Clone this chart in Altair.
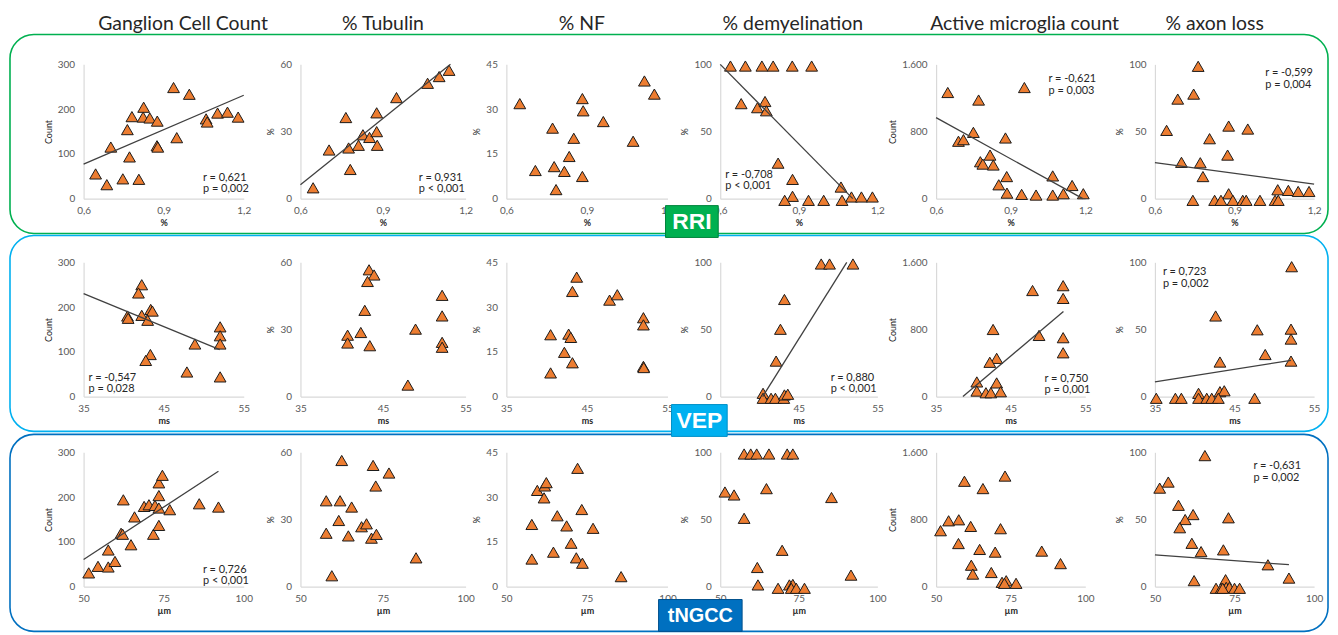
import altair as alt
import pandas as pd

# ---------------- texts / axes ----------------
COLUMN_TITLES = ["Ganglion Cell Count", "% Tubulin", "% NF", "% demyelination",
                 "Active microglia count", "% axon loss"]
ROW_LABELS = ["RRI", "VEP", "tNGCC"]
X_TITLES = ["%", "ms", "µm"]
X_DOMAINS = [[0.6, 1.2], [35, 55], [50, 100]]
X_TICKS = [[0.6, 0.9, 1.2], [35, 45, 55], [50, 75, 100]]
Y_TITLES = ["Count", "%", "%", "%", "Count", "%"]
Y_DOMAINS = [[0, 300], [0, 60], [0, 45], [0, 100], [0, 1600], [0, 100]]
Y_TICKS = [[0, 100, 200, 300], [0, 30, 60], [0, 15, 30, 45], [0, 50, 100],
           [0, 800, 1600], [0, 50, 100]]

# ---------------- RRI row ----------------
RRI_GCC_X = [0.645, 0.687, 0.702, 0.747, 0.764, 0.772, 0.781, 0.807, 0.825, 0.823, 0.848,
             0.876, 0.875, 0.878, 0.937, 0.949, 0.996, 1.059, 1.063, 1.102, 1.139, 1.179]
RRI_GCC_Y = [59, 35, 119, 48, 158, 97, 187, 47, 208, 186, 184,
             177, 122, 119, 252, 140, 237, 182, 175, 195, 197, 186]
RRI_TUB_X = [0.646, 0.704, 0.765, 0.775, 0.781, 0.811, 0.827, 0.851, 0.877, 0.877,
             0.879, 0.949, 1.062, 1.104, 1.140]
RRI_TUB_Y = [5.6, 22.5, 37, 23.4, 13.8, 24.6, 29.3, 28.1, 39.1, 30.7,
             24.6, 45.9, 52.3, 55.3, 58.1]
RRI_NF_X = [0.650, 0.708, 0.772, 0.778, 0.785, 0.816, 0.834, 0.851, 0.883, 0.886,
            0.883, 0.961, 1.072, 1.114, 1.151]
RRI_NF_Y = [32.4, 10.0, 24.2, 11.3, 3.6, 9.7, 14.7, 20.8, 34.1, 30.0,
            8.0, 26.4, 19.8, 40.0, 35.6]
RRI_DEM_X = [0.639, 0.696, 0.759, 0.802, 0.875, 0.949, 0.680, 0.742, 0.771, 0.776, 0.821,
             0.876, 0.876, 0.846, 0.937, 0.995, 1.061, 1.065, 1.101, 1.139, 1.181]
RRI_DEM_Y = [100, 100, 100, 100, 100, 100, 72, 69, 73.6, 66.7, 27.7,
             15.6, 3, 0, 0, 0, 9.9, 0, 2.5, 2.5, 2.5]
RRI_MIC_X = [0.647, 0.771, 0.955, 0.690, 0.710, 0.750, 0.879, 0.778, 0.788, 0.817, 0.830,
             0.852, 0.884, 0.885, 0.944, 1.002, 1.069, 1.069, 1.112, 1.147, 1.192]
RRI_MIC_Y = [1285, 1195, 1344, 704, 723, 810, 743, 460, 432, 539, 421,
             185, 283, 86, 71, 63, 63, 291, 79, 177, 79]
RRI_AXL_X = [0.644, 0.686, 0.700, 0.746, 0.763, 0.743, 0.771, 0.781, 0.806, 0.878, 0.874,
             0.950, 0.878, 0.825, 0.849, 0.894, 0.931, 0.944, 0.996, 1.053, 1.065, 1.063,
             1.103, 1.140, 1.181]
RRI_AXL_Y = [52.1, 75.4, 28.3, 79.1, 99.8, 0, 28, 17.7, 45.9, 55.3, 33.7,
             53.1, 4.9, 0, 0, 0, 0, 0, 0, 0, 0, 7.9,
             7.4, 6.6, 6.6]

# ---------------- VEP row ----------------
VEP_GCC_X = [40.48, 40.56, 42.26, 41.85, 42.26, 43.38, 43.59, 43.0, 43.34, 42.76, 48.9,
             47.9, 52.05, 52.05, 52.05, 52.05]
VEP_GCC_Y = [183.8, 178.7, 253.7, 235.3, 185.3, 198.5, 194.9, 174.3, 97.8, 84.6, 121.3,
             58.8, 159.6, 139.7, 121.3, 47.8]
VEP_TUB_X = [43.31, 43.92, 43.12, 42.79, 42.31, 40.71, 40.71, 43.4, 48.94, 48.01,
             52.16, 52.16, 52.16, 52.16]
VEP_TUB_Y = [57.4, 55.1, 52.2, 39.3, 29.4, 28.2, 24.7, 23.5, 30.9, 5.9,
             46.0, 36.8, 25.0, 22.8]
VEP_NF_X = [40.49, 40.49, 42.2, 42.73, 43.0, 43.2, 43.2, 43.73, 47.81, 48.77,
            52.01, 52.01, 52.01, 52.05]
VEP_NF_Y = [21.3, 8.5, 15.4, 21.5, 20.4, 35.8, 11.9, 40.6, 32.9, 34.7,
            27.0, 24.6, 10.7, 10.3]
VEP_DEM_X = [47.85, 48.91, 51.89, 43.17, 42.66, 42.11, 40.45, 40.45, 41.47, 42.02,
             43.09, 43.17, 43.6]
VEP_DEM_Y = [100, 100, 100, 73.6, 51.4, 27.7, 3.7, 0, 0, 0,
             0, 2.5, 3]
VEP_MIC_X = [52.03, 52.03, 47.93, 42.64, 48.8, 52.03, 52.03, 43.12, 42.2, 40.46,
             43.12, 40.46, 41.68, 42.34, 43.65]
VEP_MIC_Y = [1342, 1190, 1284, 820, 749, 722, 542, 476, 429, 195,
             183, 86, 66, 66, 78]
VEP_AXL_X = [52.18, 52.1, 52.1, 52.1, 47.86, 48.86, 42.63, 43.17, 43.17, 43.71,
             40.48, 35.17, 37.57, 38.32, 40.48, 41.51, 42.14, 42.97, 47.53]
VEP_AXL_Y = [98, 51.5, 44.1, 27.7, 51, 32.6, 61.3, 27, 4.9, 5.6,
             3.7, 0, 0, 0, 0, 0, 0, 0, 0]

# ---------------- tNGCC row ----------------
TNG_GCC_X = [51.6, 54.5, 57.7, 57.7, 59.8, 61.7, 62.2, 62.4, 64.8, 65.9, 68.9,
             70.4, 72.3, 71.8, 73.5, 73.5, 74.6, 73.5, 73.5, 76.9, 86.1, 92.1]
TNG_GCC_Y = [34.4, 49, 47.6, 85.6, 60, 122.9, 120.7, 197.6, 97.3, 159.5, 182.9,
             186.6, 185.1, 120.7, 207.1, 235.6, 252.4, 179.3, 140.5, 175.6, 188.8, 181.5]
TNG_TUB_X = [62.5, 72, 76.8, 72.8, 57.8, 62, 65.5, 61.6, 68.5, 70,
             57.8, 64.5, 71.5, 73, 59.5, 85]
TNG_TUB_Y = [57.1, 54.9, 51.5, 45.7, 39.1, 39.1, 36.3, 30.3, 27.5, 28.8,
             24.6, 23.4, 22.4, 24.1, 5.6, 13.6]
TNG_NF_X = [72.1, 59.6, 61.9, 62.4, 61.7, 73.4, 65.8, 57.9, 68.7, 76.9,
            70.1, 64.6, 57.9, 71.7, 73.6, 85.6]
TNG_NF_Y = [40.2, 32.8, 34.3, 35.4, 30.3, 26.4, 24.3, 21.4, 20.9, 20.1,
            15.1, 12.1, 9.8, 10.2, 8.4, 3.9]
TNG_DEM_X = [57.6, 59.7, 61.6, 65.5, 71.3, 73.1, 51.5, 54.4, 64.7, 85.4, 57.6,
             69.7, 61.8, 62, 68.4, 72, 73.1, 72.6, 74.2, 76.8, 91.6]
TNG_DEM_Y = [100, 100, 100, 100, 100, 100, 71.7, 69.5, 74.2, 67.6, 52.1,
             28.3, 15.5, 2.5, 0, 2.5, 2.9, 0, 0, 0, 9.8]
TNG_MIC_X = [73.1, 59.5, 65.7, 51.5, 54.2, 57.6, 61.6, 71.6, 57.5, 64.6,
             69.8, 85.4, 91.7, 61.8, 62.3, 68.5, 72.1, 73.5, 76.8, 72.9]
TNG_MIC_Y = [1337, 1275, 1188, 686, 804, 816, 737, 710, 533, 463,
             431, 443, 294, 275, 169, 188, 71, 90, 59, 59]
TNG_AXL_X = [65.7, 54.2, 51.5, 57.4, 62, 59.5, 73.1, 57.8, 61.6, 64.5, 71.5,
             85.5, 92.1, 62.3, 72.2, 69.2, 70.8, 72.4, 73.4, 75, 76.6, 71.3]
TNG_AXL_Y = [98.8, 79.1, 74.6, 61.8, 54.9, 51.2, 52.5, 45.1, 33.5, 27.3, 28.6,
             17.5, 7.6, 5.7, 6.4, 0, 0, 0.7, 0.7, 0, 0, 0]

# ---------------- trend lines (end points) ----------------
TREND_RRI_GCC = ([0.6, 1.2], [77, 231])
TREND_RRI_TUB = ([0.6, 1.145], [6.2, 60])
TREND_RRI_DEM = ([0.6, 1.106], [100, 0])
TREND_RRI_MIC = ([0.6, 1.19], [965, 0])
TREND_RRI_AXL = ([0.6, 1.2], [26.8, 10.8])
TREND_VEP_GCC = ([35, 52], [230, 105])
TREND_VEP_DEM = ([40.4, 51.1], [0, 100])
TREND_VEP_MIC = ([38.6, 52.07], [0, 1015])
TREND_VEP_AXL = ([35, 52.1], [11, 27])
TREND_TNG_GCC = ([50, 92.1], [60.7, 257.6])
TREND_TNG_AXL = ([50, 92.1], [23.6, 16.3])

# ---------------- correlation annotations ----------------
STAT_RRI_GCC = ["r = 0,621", "p = 0,002"]
STAT_RRI_TUB = ["r = 0,931", "p < 0,001"]
STAT_RRI_DEM = ["r = -0,708", "p < 0,001"]
STAT_RRI_MIC = ["r = -0,621", "p = 0,003"]
STAT_RRI_AXL = ["r = -0,599", "p = 0,004"]
STAT_VEP_GCC = ["r = -0,547", "p = 0,028"]
STAT_VEP_DEM = ["r = 0,880", "p < 0,001"]
STAT_VEP_MIC = ["r = 0,750", "p = 0,001"]
STAT_VEP_AXL = ["r = 0,723", "p = 0,002"]
STAT_TNG_GCC = ["r = 0,726", "p < 0,001"]
STAT_TNG_AXL = ["r = -0,631", "p = 0,002"]

# ---------------- layout (pixels, page coordinates) ----------------
LEFTS = [82, 300, 507, 722, 939, 1159]      # plot-area left edges
WIDTHS = [161, 166, 162, 158, 150, 160]     # plot-area widths
TOPS = [62, 261, 452]                       # plot-area top edges
HEIGHT = 135
COL_SPACING = 41
ROW_SPACING = 56
ROW_COLORS = ["#00B050", "#00B0F0", "#0070C0"]
ROW_BOX_STROKE = ["#00833B", "#0090C8", "#00508C"]
ROW_FRAMES = [(8, 1333, 32, 232), (8, 1333, 234, 431), (8, 1333, 434, 632)]
ROW_TAGS = [(667, 720, 204, 236, 23), (673, 729, 404, 436, 23), (660, 744, 600, 632, 20)]
TITLE_CENTERS = [182, 383, 583, 795, 1028, 1219]
TITLE_Y = 21

POINTS = [
    [(RRI_GCC_X, RRI_GCC_Y), (RRI_TUB_X, RRI_TUB_Y), (RRI_NF_X, RRI_NF_Y),
     (RRI_DEM_X, RRI_DEM_Y), (RRI_MIC_X, RRI_MIC_Y), (RRI_AXL_X, RRI_AXL_Y)],
    [(VEP_GCC_X, VEP_GCC_Y), (VEP_TUB_X, VEP_TUB_Y), (VEP_NF_X, VEP_NF_Y),
     (VEP_DEM_X, VEP_DEM_Y), (VEP_MIC_X, VEP_MIC_Y), (VEP_AXL_X, VEP_AXL_Y)],
    [(TNG_GCC_X, TNG_GCC_Y), (TNG_TUB_X, TNG_TUB_Y), (TNG_NF_X, TNG_NF_Y),
     (TNG_DEM_X, TNG_DEM_Y), (TNG_MIC_X, TNG_MIC_Y), (TNG_AXL_X, TNG_AXL_Y)],
]
TRENDS = {
    (0, 0): TREND_RRI_GCC, (0, 1): TREND_RRI_TUB, (0, 3): TREND_RRI_DEM,
    (0, 4): TREND_RRI_MIC, (0, 5): TREND_RRI_AXL,
    (1, 0): TREND_VEP_GCC, (1, 3): TREND_VEP_DEM, (1, 4): TREND_VEP_MIC, (1, 5): TREND_VEP_AXL,
    (2, 0): TREND_TNG_GCC, (2, 5): TREND_TNG_AXL,
}
# (texts, x offset, y offset of first line) relative to the plot area
STATS = {
    (0, 0): (STAT_RRI_GCC, 120, 114), (0, 1): (STAT_RRI_TUB, 119, 114),
    (0, 3): (STAT_RRI_DEM, 5, 111), (0, 4): (STAT_RRI_MIC, 113, 15),
    (0, 5): (STAT_RRI_AXL, 111, 9),
    (1, 0): (STAT_VEP_GCC, 5, 116), (1, 3): (STAT_VEP_DEM, 111, 116),
    (1, 4): (STAT_VEP_MIC, 109, 117), (1, 5): (STAT_VEP_AXL, 8, 10),
    (2, 0): (STAT_TNG_GCC, 120, 118), (2, 5): (STAT_TNG_AXL, 99, 14),
}

ONE = pd.DataFrame({"k": [0]})
FONT = "Lato"
BOX_FONT = "Liberation Sans"

# extra room to the right of each plot (so a uniform grid spacing hits the exact lefts)
EXTRA_RIGHT = [LEFTS[c + 1] - LEFTS[c] - WIDTHS[c] - COL_SPACING for c in range(5)] + [0]
# extra room above each row's plot
EXTRA_TOP = [0]
for _r in range(1, 3):
    EXTRA_TOP.append(TOPS[_r] - (TOPS[_r - 1] + HEIGHT) - ROW_SPACING)


def x_axis(r):
    kw = dict(values=X_TICKS[r], title=X_TITLES[r])
    if r == 0:
        kw["labelExpr"] = "replace(format(datum.value, '.1f'), '.', ',')"
    return alt.Axis(**kw)


def y_axis(c):
    kw = dict(values=Y_TICKS[c], title=Y_TITLES[c])
    if c == 4:
        kw["labelExpr"] = "replace(format(datum.value, ','), ',', '.')"
    return alt.Axis(**kw)


def panel(r, c):
    xs, ys = POINTS[r][c]
    d = EXTRA_TOP[r]
    ox, oy = LEFTS[c], TOPS[r] - d          # view origin on the page
    xsc = alt.Scale(domain=X_DOMAINS[r], nice=False, zero=False, range=[0, WIDTHS[c]])
    ysc = alt.Scale(domain=Y_DOMAINS[c], nice=False, zero=False, range=[HEIGHT + d, d])
    layers = []

    if c == 0:
        x0, x1, y0, y1 = ROW_FRAMES[r]
        layers.append(
            alt.Chart(ONE).mark_rect(cornerRadius=24, fill="white", fillOpacity=0,
                                     stroke=ROW_COLORS[r], strokeWidth=1.6)
            .encode(x=alt.value(x0 - ox), x2=alt.value(x1 - ox),
                    y=alt.value(y0 - oy), y2=alt.value(y1 - oy)))
    if r == 0 and c == 0:
        layers.append(
            alt.Chart(ONE).mark_rect(fillOpacity=0, strokeOpacity=0)
            .encode(x=alt.value(8 - ox), x2=alt.value(9 - ox),
                    y=alt.value(8 - oy), y2=alt.value(9 - oy)))
        for t, cx in zip(COLUMN_TITLES, TITLE_CENTERS):
            layers.append(
                alt.Chart(ONE).mark_text(text=t, font=FONT, fontSize=19.5, color="#262626",
                                         align="center", baseline="middle")
                .encode(x=alt.value(cx - ox), y=alt.value(TITLE_Y - oy)))

    df = pd.DataFrame({"x": xs, "y": ys})
    layers.append(
        alt.Chart(df).mark_point(shape="triangle-up", filled=True, fill="#ED7D31",
                                 fillOpacity=1, stroke="#1A1A1A", strokeWidth=1,
                                 size=140, yOffset=1.7, opacity=1)
        .encode(x=alt.X("x:Q", scale=xsc, axis=x_axis(r)),
                y=alt.Y("y:Q", scale=ysc, axis=y_axis(c))))

    if (r, c) in TRENDS:
        tx, ty = TRENDS[(r, c)]
        layers.append(
            alt.Chart(pd.DataFrame({"x": tx, "y": ty})).mark_line(color="#404040", strokeWidth=1.3)
            .encode(x=alt.X("x:Q", scale=xsc), y=alt.Y("y:Q", scale=ysc)))

    if (r, c) in STATS:
        texts, dx, dy = STATS[(r, c)]
        for i, t in enumerate(texts):
            layers.append(
                alt.Chart(ONE).mark_text(text=t, font=FONT, fontSize=11, color="#262626",
                                         align="left", baseline="middle")
                .encode(x=alt.value(dx), y=alt.value(d + dy + 11.7 * i)))

    if r == 2 and c == 5:
        for k in range(3):
            x0, x1, y0, y1, fs = ROW_TAGS[k]
            layers.append(
                alt.Chart(ONE).mark_rect(fill=ROW_COLORS[k], stroke=ROW_BOX_STROKE[k],
                                         strokeWidth=1)
                .encode(x=alt.value(x0 - ox), x2=alt.value(x1 - ox),
                        y=alt.value(y0 - oy), y2=alt.value(y1 - oy)))
            layers.append(
                alt.Chart(ONE).mark_text(text=ROW_LABELS[k], font=BOX_FONT, fontWeight="bold",
                                         fontSize=fs, color="white", align="center",
                                         baseline="middle")
                .encode(x=alt.value((x0 + x1) / 2 - ox), y=alt.value((y0 + y1) / 2 + 1 - oy)))

    return alt.layer(*layers).properties(width=WIDTHS[c] + EXTRA_RIGHT[c], height=HEIGHT + d)


panels = [panel(r, c) for r in range(3) for c in range(6)]
chart = (
    alt.concat(*panels, columns=6, spacing={"row": ROW_SPACING, "column": COL_SPACING},
               bounds="flush")
    .properties(padding=0, background="white")
    .configure_view(stroke="transparent")
    .configure_axis(domainColor="#D9D9D9", domainWidth=1.2, ticks=False, tickSize=0,
                    grid=False, labelColor="#595959", labelFont=FONT, labelFontSize=10,
                    labelFlush=False, labelOverlap=False, titleFont=FONT, titleFontSize=9,
                    titleColor="#262626")
    .configure_axisX(labelPadding=7, titlePadding=3, titleFontWeight="bold")
    .configure_axisY(labelPadding=9, titlePadding=4, titleFontWeight="normal")
)

chart.save("out.html", embed_options={"renderer": "svg", "actions": False})
